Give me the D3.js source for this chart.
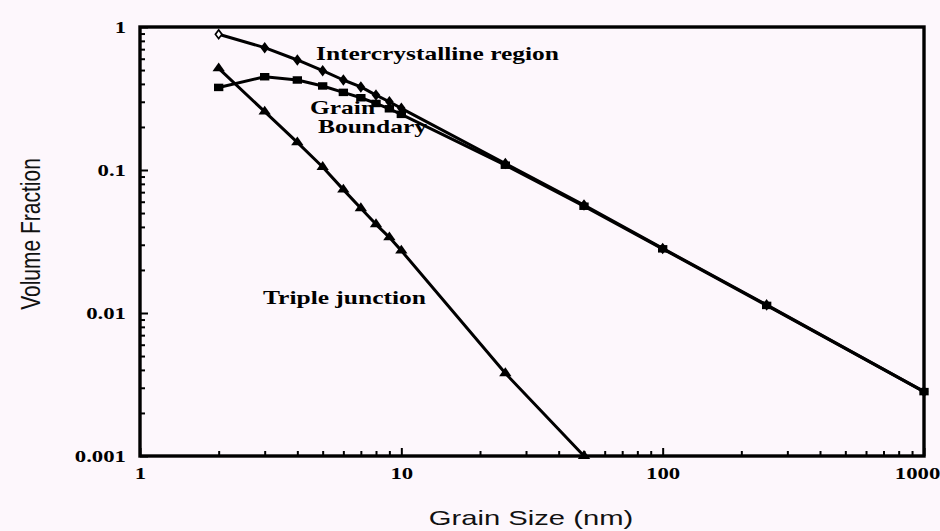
<!DOCTYPE html>
<html>
<head>
<meta charset="utf-8">
<script src="https://cdn.jsdelivr.net/npm/d3@7"></script>
<style>
  html, body { margin: 0; padding: 0; background: #fdf7fc; }
  svg { display: block; }
</style>
</head>
<body>
<svg id="chart" width="940" height="531"></svg>
<script>
// Volume fractions versus grain size (log-log)
const grainSizes = [2, 3, 4, 5, 6, 7, 8, 9, 10, 25, 50, 100, 250, 1000];
const intercrystalline = [0.889, 0.717, 0.588, 0.495, 0.426, 0.381, 0.334, 0.300, 0.270, 0.111, 0.0569, 0.0283, 0.0114, 0.00282];
const grainBoundary = [0.378, 0.449, 0.426, 0.387, 0.349, 0.320, 0.292, 0.268, 0.245, 0.108, 0.0558, 0.0281, 0.0113, 0.00282];
const junctionSizes = [2, 3, 4, 5, 6, 7, 8, 9, 10, 25, 50];
const tripleJunction = [0.514, 0.256, 0.156, 0.105, 0.0729, 0.0540, 0.0417, 0.0338, 0.0273, 0.00379, 0.001];
const xTickValues = [1, 10, 100, 1000];
const yTickValues = [1, 0.1, 0.01, 0.001];
const xTickLabels = ["1", "10", "100", "1000"];
const yTickLabels = ["1", "0.1", "0.01", "0.001"];

const svg = d3.select("#chart");
const STRETCH = 1.34;   // horizontal widening of lettering
const serif = "'Liberation Serif', 'Times New Roman', serif";
const sans = "'Liberation Sans', Arial, Helvetica, sans-serif";

const x = d3.scaleLog().domain([1, 1000]).range([140, 924]);
const y = d3.scaleLog().domain([0.001, 1]).range([456, 27]);

// widen a text element to the stretched lettering
function widen(sel, f) {
  sel.each(function () {
    const n = this.getComputedTextLength();
    d3.select(this).attr("textLength", n * (f || STRETCH)).attr("lengthAdjust", "spacingAndGlyphs");
  });
}

// minor tick positions for each decade
const minorX = [], minorY = [];
for (let d = 1; d < 1000; d *= 10) for (let k = 2; k <= 9; k++) minorX.push(d * k);
for (let d = 0.001; d < 1; d *= 10) for (let k = 2; k <= 9; k++) minorY.push(+(d * k).toPrecision(3));

// left axis: inward ticks
const gyMinor = svg.append("g").attr("transform", `translate(${x.range()[0]},0)`)
  .call(d3.axisLeft(y).tickValues(minorY).tickSize(-5).tickFormat(""));
const gy = svg.append("g").attr("transform", `translate(${x.range()[0]},0)`)
  .call(d3.axisLeft(y).tickValues(yTickValues).tickSize(-8).tickPadding(14)
    .tickFormat((d, i) => yTickLabels[i]));

// bottom axis: inward ticks
const gxMinor = svg.append("g").attr("transform", `translate(0,${y.range()[0]})`)
  .call(d3.axisBottom(x).tickValues(minorX).tickSize(-5).tickFormat(""));
const gx = svg.append("g").attr("transform", `translate(0,${y.range()[0]})`)
  .call(d3.axisBottom(x).tickValues(xTickValues).tickSize(-8).tickPadding(11)
    .tickFormat((d, i) => xTickLabels[i]));

[gyMinor, gy, gxMinor, gx].forEach(g => {
  g.select(".domain").remove();
  g.selectAll(".tick line").attr("stroke", "#000").attr("stroke-width", 2);
});
[gy, gx].forEach(g => {
  g.selectAll(".tick text")
    .attr("fill", "#000")
    .style("font-family", serif)
    .style("font-weight", "bold")
    .style("font-size", "17px");
  widen(g.selectAll(".tick text"));
});
gx.selectAll(".tick text").filter(d => d === 1000).attr("dx", -7);

// plot frame
svg.append("rect")
  .attr("x", x.range()[0]).attr("y", y.range()[1])
  .attr("width", x.range()[1] - x.range()[0])
  .attr("height", y.range()[0] - y.range()[1])
  .attr("fill", "none").attr("stroke", "#000").attr("stroke-width", 3.4);

// series
const line = d3.line().x(d => x(d[0])).y(d => y(d[1]));
const icData = grainSizes.map((g, i) => [g, intercrystalline[i]]);
const gbData = grainSizes.map((g, i) => [g, grainBoundary[i]]);
const tjData = junctionSizes.map((g, i) => [g, tripleJunction[i]]);

[icData, gbData, tjData].forEach(data => {
  svg.append("path").datum(data).attr("d", line)
    .attr("fill", "none").attr("stroke", "#000").attr("stroke-width", 3)
    .attr("stroke-linejoin", "round");
});

// markers
const sym = (type, size) => d3.symbol().type(type).size(size)();
svg.append("g").selectAll("path").data(gbData).join("path")
  .attr("transform", d => `translate(${x(d[0])},${y(d[1])}) scale(1.25,1)`)
  .attr("d", sym(d3.symbolSquare, 56)).attr("fill", "#000");
svg.append("g").selectAll("path").data(tjData).join("path")
  .attr("transform", d => `translate(${x(d[0])},${y(d[1])}) scale(1.2,1)`)
  .attr("d", sym(d3.symbolTriangle, 46)).attr("fill", "#000");
svg.append("g").selectAll("path").data(icData).join("path")
  .attr("transform", d => `translate(${x(d[0])},${y(d[1])}) scale(1.3,1)`)
  .attr("d", sym(d3.symbolDiamond, 22))
  .attr("fill", (d, i) => i === 0 ? "#fff" : "#000")
  .attr("stroke", "#000").attr("stroke-width", 1.4);

// series annotations
const notes = [
  { text: "Intercrystalline region", at: [316, 53] },
  { text: "Grain", at: [310, 107] },
  { text: "Boundary", at: [318, 126] },
  { text: "Triple junction", at: [263, 297] }
];
const noteSel = svg.append("g").selectAll("text").data(notes).join("text")
  .attr("x", d => d.at[0]).attr("y", d => d.at[1])
  .attr("dy", "0.35em")
  .attr("fill", "#000")
  .style("font-family", serif).style("font-weight", "bold").style("font-size", "19px")
  .text(d => d.text);
widen(noteSel);

// axis titles
const xt = svg.append("text")
  .attr("x", 531).attr("y", 518).attr("dy", "0.35em")
  .attr("text-anchor", "middle").attr("fill", "#111")
  .style("font-family", sans).style("font-size", "21px")
  .text("Grain Size (nm)");
widen(xt, 1.39);

svg.append("text")
  .attr("transform", "translate(30,234) scale(1.35,1) rotate(-90)")
  .attr("dy", "0.35em")
  .attr("text-anchor", "middle").attr("fill", "#111")
  .style("font-family", sans).style("font-size", "21px")
  .text("Volume Fraction");
</script>
</body>
</html>
